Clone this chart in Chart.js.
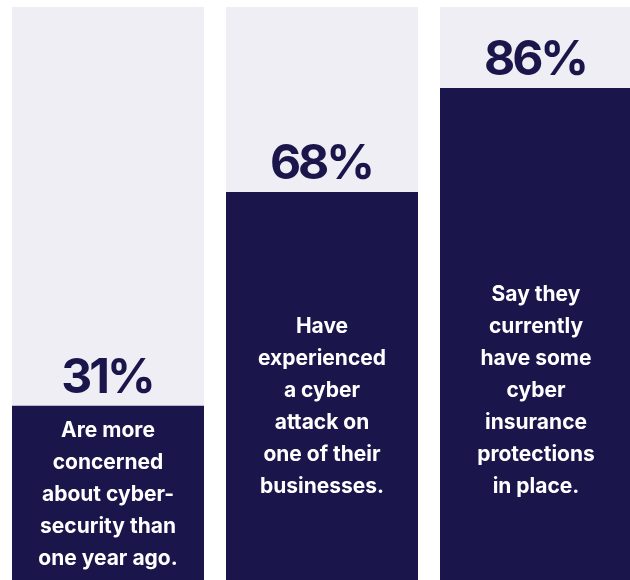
<!DOCTYPE html>
<html>
<head>
<meta charset="utf-8">
<script src="https://cdn.jsdelivr.net/npm/chart.js@4"></script>
<style>
  html, body { margin: 0; padding: 0; background: #fff; overflow: hidden; }
  #wrap { position: absolute; left: 0; top: 0; width: 643px; height: 585px; }
</style>
</head>
<body>
<div id="wrap"><canvas id="chart"></canvas></div>
<script>
const categories = ["cyber-security concern", "cyber attack", "cyber insurance"];
const percentValues = [31, 68, 86];
const fullValues = [100, 100, 100];
const descriptions = [
    ["Are more", "concerned", "about cyber-", "security than", "one year ago."],
    ["Have", "experienced", "a cyber", "attack on", "one of their", "businesses."],
    ["Say they", "currently", "have some", "cyber", "insurance", "protections", "in place."]
];

const navy = "#1a154a";
const pale = "#efeef4";

const labelPlugin = {
    id: "barLabels",
    afterDatasetsDraw(chart) {
        const ctx = chart.ctx;
        const meta = chart.getDatasetMeta(0);
        const bottom = chart.chartArea.bottom;
        ctx.save();
        ctx.textAlign = "center";
        meta.data.forEach((bar, i) => {
            // big percentage above the dark bar
            ctx.fillStyle = navy;
            ctx.font = "700 48px Inter";
            ctx.letterSpacing = "-3px";
            ctx.textBaseline = "alphabetic";
            ctx.fillText(percentValues[i] + "%", bar.x - 1, bar.y - 13);

            // description inside the dark bar
            const lines = descriptions[i];
            const lh = 32;
            let y = Math.max(bar.y + 24, bottom - 99 - (lines.length - 1) * lh);
            ctx.fillStyle = "#ffffff";
            ctx.font = "700 21px Inter";
            ctx.letterSpacing = "0px";
            ctx.textBaseline = "middle";
            lines.forEach(line => {
                ctx.fillText(line, bar.x, y + 1);
                y += lh;
            });
        });
        ctx.restore();
    }
};

new Chart(document.getElementById("chart"), {
    type: "bar",
    data: {
        labels: categories,
        datasets: [
            {
                data: percentValues,
                backgroundColor: navy,
                order: 0
            },
            {
                data: fullValues,
                backgroundColor: pale,
                order: 1
            }
        ]
    },
    options: {
        responsive: true,
        maintainAspectRatio: false,
        animation: false,
        layout: { padding: { top: 7, left: 1, right: 0, bottom: 0 } },
        datasets: {
            bar: { categoryPercentage: 1, barPercentage: 192 / 214, borderWidth: 0 }
        },
        scales: {
            x: { stacked: true, display: false },
            y: { stacked: false, display: false, min: 0, max: 100 }
        },
        plugins: {
            legend: { display: false },
            tooltip: { enabled: false }
        }
    },
    plugins: [labelPlugin]
});
</script>
</body>
</html>
